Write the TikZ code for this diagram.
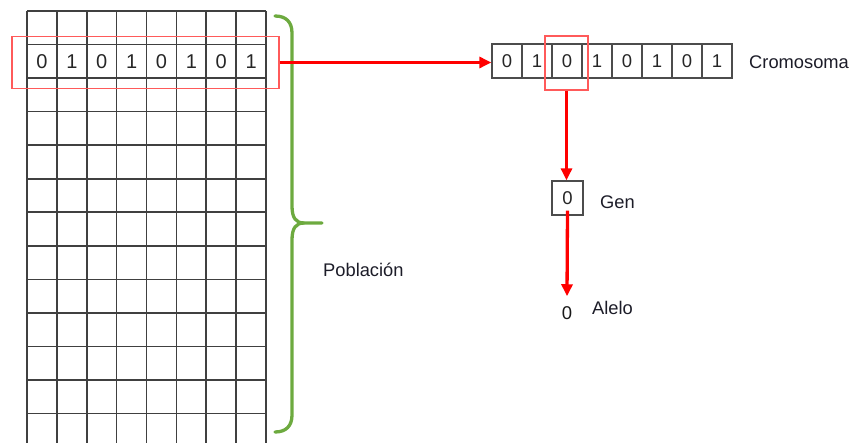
\documentclass[tikz,border=0pt]{standalone}
\usepackage{fontspec}
\setmainfont{Liberation Sans}
\usetikzlibrary{arrows.meta}

\definecolor{selred}{HTML}{FF5A5A}
\definecolor{bracegreen}{HTML}{6DAA3F}
\definecolor{labelcol}{HTML}{1C1C28}

\begin{document}
\begin{tikzpicture}[x=1pt,y=-1pt,
  gridline/.style={black!75,line width=1.6pt},
  bit/.style={font=\fontsize{20}{20}\selectfont,text=black!85},
  cell/.style={draw=black!70,line width=1.3pt,minimum width=30pt,
    minimum height=34pt,inner sep=0pt,font=\fontsize{18.5}{18.5}\selectfont,text=black!85},
  lbl/.style={font=\fontsize{18.3}{19}\selectfont,text=labelcol,anchor=west,inner sep=0pt},
  selbox/.style={draw=selred,line width=1.3pt,inner sep=0pt},
  flow/.style={draw=red,line width=3.3pt,-{Triangle[length=12pt,width=11pt]}},
  brace/.style={draw=bracegreen,line width=3.3pt,line cap=round}]

\useasboundingbox (0,0) rectangle (851,443);
\clip (0,0) rectangle (851,443);

% population grid: 8 columns, rows running past the lower edge
\foreach \k in {0,...,8}
  \draw[gridline] ({27+29.875*\k},11) -- ({27+29.875*\k},450);
\foreach \k in {0,...,13}
  \draw[gridline] (27,{11+33.55*\k}) -- (266,{11+33.55*\k});

% bits of the highlighted individual
\foreach \b [count=\i from 0] in {0,1,0,1,0,1,0,1}
  \node[bit] (g\i) at ({27+29.875*(\i+0.5)},61.3) {\b};

% selection frame around that row
\node[selbox,minimum width=267pt,minimum height=52pt] (row) at (145.5,62.5) {};

% brace spanning the population
\draw[brace] (275,16) .. controls (286,16) and (292,22) .. (292,33)
  -- (292,206) .. controls (292,218) and (296,223) .. (304,223) -- (322,223);
\draw[brace] (304,223) .. controls (296,223) and (292,228) .. (292,240)
  -- (292,415) .. controls (292,426) and (286,432) .. (275,432);
\node[lbl] (pop) at (323,270) {Población};

% chromosome
\foreach \b [count=\i from 1] in {0,1,0,1,0,1,0,1}
  \node[cell] (c\i) at ({477+30*\i},61) {\b};
\node[lbl] (crom) at (749,62) {Cromosoma};

% selected gene
\node[selbox,minimum width=43pt,minimum height=54pt] (gsel) at (566.5,63) {};
\node[cell,minimum width=31pt] (gen) at (567.5,198) {0};
\node[lbl] (genl) at (600,202) {Gen};

% allele value
\node[font=\fontsize{18.5}{18.5}\selectfont,text=black!90,inner sep=3pt] (alelo) at (567,313) {0};
\node[lbl] (alelol) at (592,308) {Alelo};

% connectors
\draw[flow] (row.east) -- (row.east -| c1.west);
\draw[flow] (gsel.south) -- (gsel.south |- gen.north);
\draw[flow] ([yshift=5pt]gen.south) -- ([yshift=7pt]alelo.north);
\end{tikzpicture}
\end{document}
